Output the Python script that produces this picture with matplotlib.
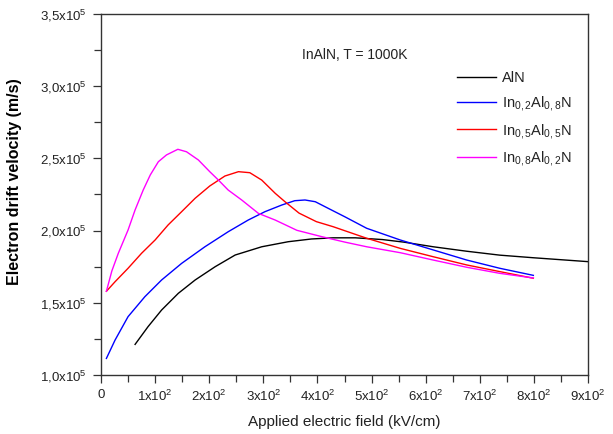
import numpy as np
import matplotlib.pyplot as plt
from matplotlib.ticker import MultipleLocator

plt.rcParams['font.family'] = ['Liberation Sans', 'DejaVu Sans']
plt.rcParams['mathtext.fontset'] = 'custom'
plt.rcParams['mathtext.rm'] = 'Liberation Sans'
plt.rcParams['mathtext.it'] = 'Liberation Sans'

# field (kV/cm) and drift velocity (x1e5 m/s)
aln_x = [63, 87, 112, 143, 174, 211, 248, 297, 346, 389, 429, 470, 520, 560, 614, 676, 737, 799, 900]
aln_v = [1.212, 1.335, 1.450, 1.566, 1.658, 1.750, 1.831, 1.888, 1.923, 1.942, 1.950, 1.950, 1.938, 1.920, 1.888, 1.857, 1.830, 1.812, 1.785]

in02_x = [10, 26, 50, 81, 112, 149, 192, 235, 272, 303, 334, 358, 377, 396, 420, 451, 491, 553, 614, 676, 737, 799]
in02_v = [1.115, 1.242, 1.404, 1.542, 1.658, 1.773, 1.888, 1.992, 2.073, 2.131, 2.177, 2.207, 2.212, 2.200, 2.154, 2.095, 2.016, 1.935, 1.866, 1.796, 1.739, 1.690]

in05_x = [10, 26, 50, 75, 100, 124, 149, 174, 201, 229, 254, 275, 297, 322, 340, 366, 398, 429, 491, 553, 614, 676, 737, 799]
in05_v = [1.580, 1.646, 1.739, 1.843, 1.935, 2.039, 2.131, 2.224, 2.309, 2.378, 2.408, 2.401, 2.350, 2.258, 2.200, 2.121, 2.062, 2.027, 1.947, 1.877, 1.819, 1.762, 1.716, 1.670]

in08_x = [10, 20, 32, 50, 63, 78, 91, 106, 121, 142, 158, 180, 201, 217, 235, 260, 291, 322, 362, 408, 451, 491, 553, 614, 676, 737, 799]
in08_v = [1.580, 1.720, 1.843, 2.004, 2.143, 2.281, 2.385, 2.477, 2.524, 2.563, 2.546, 2.489, 2.408, 2.350, 2.281, 2.212, 2.119, 2.073, 2.002, 1.958, 1.920, 1.888, 1.847, 1.796, 1.746, 1.704, 1.672]

series = [
    (aln_x, aln_v, 'black', 'AlN'),
    (in02_x, in02_v, '#0000ff', 'In$_{0,2}$Al$_{0,8}$N'),
    (in05_x, in05_v, '#ff0000', 'In$_{0,5}$Al$_{0,5}$N'),
    (in08_x, in08_v, '#ff00ff', 'In$_{0,8}$Al$_{0,2}$N'),
]

xticks = [0, 100, 200, 300, 400, 500, 600, 700, 800, 900]
xlabels = ['0'] + ['%dx10$^2$' % i for i in range(1, 10)]
yticks = [1.0, 1.5, 2.0, 2.5, 3.0, 3.5]
ylabels = ['1,0x10$^5$', '1,5x10$^5$', '2,0x10$^5$', '2,5x10$^5$', '3,0x10$^5$', '3,5x10$^5$']

fig = plt.figure(figsize=(6.13, 4.34), dpi=100)
ax = fig.add_axes([101 / 613, 1 - 375 / 434, 487 / 613, 361 / 434])

for x, v, c, lab in series:
    ax.plot(x, v, color=c, lw=1.0, label=lab)

ax.set_xlim(0, 900)
ax.set_ylim(1.0, 3.5)
ax.set_xticks(xticks)
ax.set_xticklabels(xlabels)
ax.set_yticks(yticks)
ax.set_yticklabels(ylabels)
ax.xaxis.set_minor_locator(MultipleLocator(50))
ax.yaxis.set_minor_locator(MultipleLocator(0.25))
ax.tick_params(which='major', direction='out', length=6, width=0.9, color='#333333',
               labelsize=9.5, labelcolor='#222222', pad=4)
ax.tick_params(which='minor', direction='out', length=5, width=0.9, color='#333333')
for s in ax.spines.values():
    s.set_color('#333333')
    s.set_linewidth(1.0)

ax.set_xlabel('Applied electric field (kV/cm)', fontsize=11, color='#222222')
ax.xaxis.set_label_coords(0.5, -0.11)
ax.set_ylabel('Electron drift velocity (m/s)', fontsize=11.5, fontweight='bold')
ax.yaxis.set_label_coords(-0.163, 0.535)

ax.text(302 / 613, 1 - 55 / 434, 'InAlN, T = 1000K', fontsize=10, color='#222222',
        va='center', transform=fig.transFigure)

leg = ax.legend(loc='upper left', bbox_to_anchor=(457 / 613, 1 - 71 / 434),
                bbox_transform=fig.transFigure, frameon=False, fontsize=10.5,
                handlelength=2.7, handletextpad=0.4, labelspacing=0.6,
                borderpad=0, borderaxespad=0)
for t in leg.get_texts():
    t.set_color('#222222')

fig.savefig('out.png', dpi=100)
